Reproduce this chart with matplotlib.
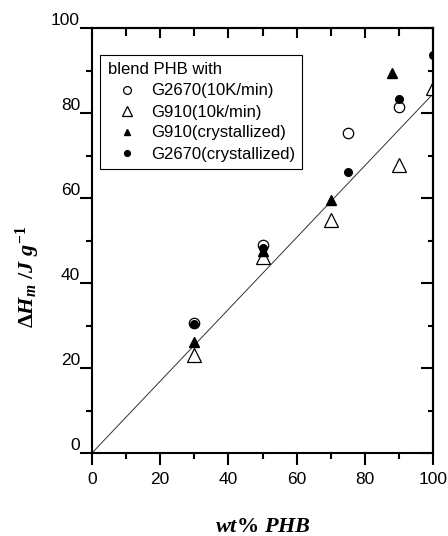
import matplotlib
matplotlib.use("Agg")
import matplotlib.pyplot as plt
from matplotlib.ticker import MultipleLocator

# ---- data ----
g2670_fast_x = [30, 50, 75, 90]
g2670_fast_y = [30.7, 49.0, 75.2, 81.5]
g910_fast_x = [30, 50, 70, 90, 100]
g910_fast_y = [23.1, 46.2, 54.8, 67.8, 86.0]
g910_cryst_x = [30, 50, 70, 88]
g910_cryst_y = [26.2, 47.6, 59.5, 89.5]
g2670_cryst_x = [30, 50, 75, 90, 100]
g2670_cryst_y = [30.4, 48.2, 66.2, 83.3, 93.6]
fit_x = [0, 100]
fit_y = [0, 84.5]

labels = ["G2670(10K/min)", "G910(10k/min)", "G910(crystallized)", "G2670(crystallized)"]
legend_title = "blend PHB with"
x_ticks = [0, 20, 40, 60, 80, 100]
y_ticks = [0, 20, 40, 60, 80, 100]

plt.rcParams['font.family'] = ['Liberation Sans', 'DejaVu Sans']
plt.rcParams['mathtext.fontset'] = 'custom'
plt.rcParams['mathtext.rm'] = 'Liberation Serif:bold'
plt.rcParams['mathtext.it'] = 'Liberation Serif:italic:bold'
plt.rcParams['mathtext.bf'] = 'Liberation Serif:bold'

W, H = 448, 536
fig = plt.figure(figsize=(W / 100, H / 100), dpi=100)
L, R, T, B = 92, 433, 28, 453
ax = fig.add_axes([L / W, 1 - B / H, (R - L) / W, (B - T) / H])

ax.plot(fit_x, fit_y, color='#333333', lw=0.7, zorder=1)
ax.plot(g2670_fast_x, g2670_fast_y, 'o', mfc='white', mec='black', mew=0.9, ms=7.5,
        label=labels[0], zorder=2)
ax.plot(g910_fast_x, g910_fast_y, '^', mfc='white', mec='black', mew=0.9, ms=9.5,
        label=labels[1], zorder=2)
ax.plot(g910_cryst_x, g910_cryst_y, '^', mfc='black', mec='black', ms=6.5,
        label=labels[2], zorder=3)
ax.plot(g2670_cryst_x, g2670_cryst_y, 'o', mfc='black', mec='black', ms=5.5,
        label=labels[3], zorder=3)

ax.set_xlim(0, 100)
ax.set_ylim(0, 100)
ax.set_xticks(x_ticks)
ax.set_yticks(y_ticks)
ax.xaxis.set_minor_locator(MultipleLocator(10))
ax.yaxis.set_minor_locator(MultipleLocator(10))

for s in ax.spines.values():
    s.set_linewidth(1.5)

ax.tick_params(which='major', direction='out', length=8.6, width=1.5, labelsize=12.5,
               top=False, right=False)
ax.tick_params(which='minor', direction='out', length=4.3, width=1.5, top=False, right=False)
ax.tick_params(axis='y', which='major', pad=0)
ax.tick_params(axis='x', which='major', pad=5)
for lab in ax.get_yticklabels():
    lab.set_verticalalignment('bottom')

sec_x = ax.secondary_xaxis('top')
sec_x.set_xticks(x_ticks)
sec_x.xaxis.set_minor_locator(MultipleLocator(10))
sec_x.tick_params(which='major', direction='in', length=7.2, width=1.5, labeltop=False)
sec_x.tick_params(which='minor', direction='in', length=5.5, width=1.5)
sec_x.spines['top'].set_linewidth(1.5)

sec_y = ax.secondary_yaxis('right')
sec_y.set_yticks(y_ticks)
sec_y.yaxis.set_minor_locator(MultipleLocator(10))
sec_y.tick_params(which='major', direction='in', length=8.6, width=1.5, labelright=False)
sec_y.tick_params(which='minor', direction='in', length=3.8, width=1.5)
sec_y.spines['right'].set_linewidth(1.5)

fig.text((L + R) / 2 / W, 1 - 527 / H, '$wt\\%\\ PHB$', ha='center', va='center',
         fontsize=16)
fig.text(28 / W, 1 - 277 / H, '$\\Delta H_m\\ /J\\ g^{-1}$', ha='center', va='center',
         rotation=90, fontsize=16)

leg = ax.legend(title=legend_title, loc='upper left',
                bbox_to_anchor=((100 - L) / (R - L), (B - 55) / (B - T)),
                borderaxespad=0, fontsize=12, title_fontsize=12, frameon=True,
                fancybox=False, edgecolor='black', framealpha=1, alignment='left',
                handlelength=2.3, handletextpad=0.3, labelspacing=0.36,
                borderpad=0.45, numpoints=1)
leg.get_frame().set_linewidth(0.8)
for h in leg.legend_handles:
    h.set_markersize(h.get_markersize() * 0.75)

fig.savefig('out.png', dpi=100)
